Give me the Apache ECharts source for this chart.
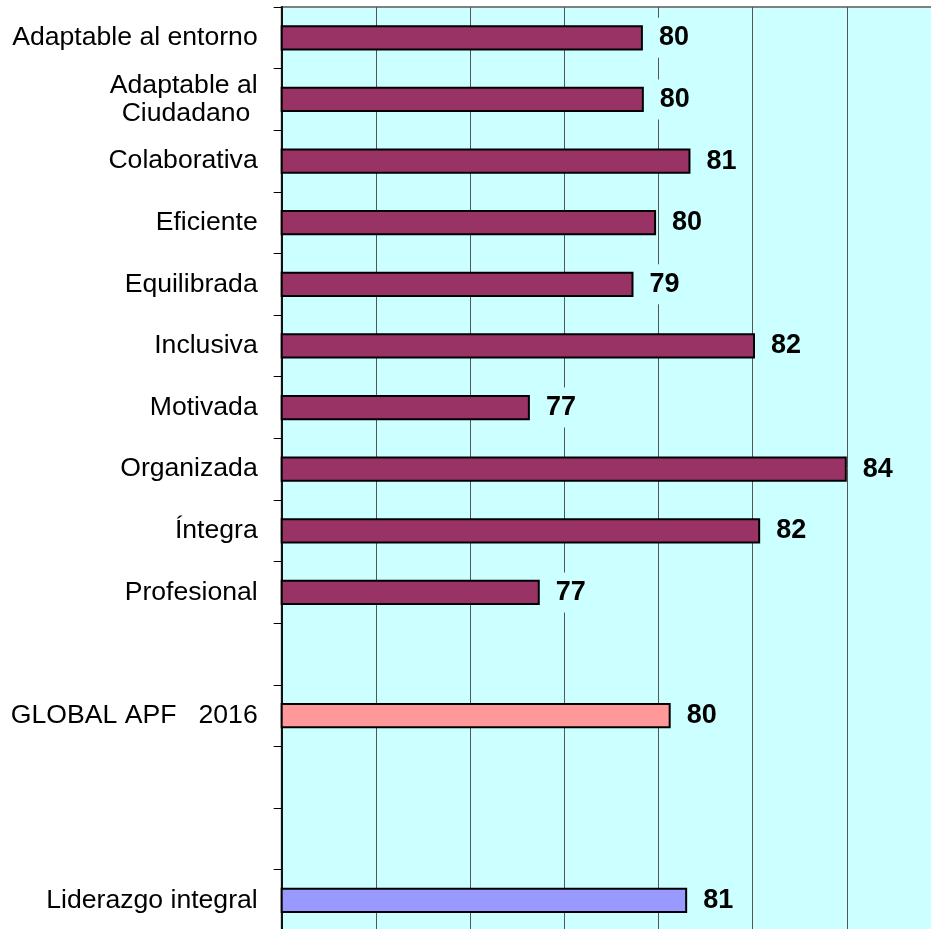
<!DOCTYPE html>
<html>
<head>
<meta charset="utf-8">
<script src="https://cdn.jsdelivr.net/npm/echarts@6/dist/echarts.min.js"></script>
<style>
  html, body { margin: 0; padding: 0; background: #fff; }
  #main { width: 931px; height: 929px; }
</style>
</head>
<body>
<div id="main"></div>
<script>
// categorias (arriba -> abajo), las vacias son huecos del grafico
var categorias = [
  'Adaptable al entorno',
  'Adaptable al\nCiudadano ',
  'Colaborativa',
  'Eficiente',
  'Equilibrada',
  'Inclusiva',
  'Motivada',
  'Organizada',
  'Íntegra',
  'Profesional',
  '',
  'GLOBAL APF   2016',
  '',
  '',
  'Liderazgo integral'
];

var valores = [79.67, 79.69, 80.68, 79.95, 79.47, 82.05, 77.27, 84.0, 82.16, 77.48, '-', 80.26, '-', '-', 80.61];

// color de cada barra
var colores = ['#993366', '#993366', '#993366', '#993366', '#993366', '#993366', '#993366',
  '#993366', '#993366', '#993366', '#993366', '#FF9999', '#993366', '#993366', '#9999FF'];

var ejeMin = 72;
var ejeMax = 86;
var ejeIntervalo = 2;

var fuente = 'Arial, "Liberation Sans", sans-serif';

var chart = echarts.init(document.getElementById('main'), null, { renderer: 'canvas' });

var datos = valores.map(function (v, i) {
  return { value: v, itemStyle: { color: colores[i] } };
});

var option = {
  animation: false,
  backgroundColor: '#ffffff',
  grid: {
    left: 281.7,
    top: 7,
    right: -10,
    bottom: -2.3,
    outerBoundsMode: 'none',
    show: true,
    backgroundColor: '#CCFFFF',
    borderColor: '#808080',
    borderWidth: 2
  },
  xAxis: {
    type: 'value',
    min: ejeMin,
    max: ejeMax,
    interval: ejeIntervalo,
    axisLine: { show: false },
    axisTick: { show: false },
    axisLabel: { show: false },
    splitLine: { show: true, lineStyle: { color: '#555555', width: 1 } }
  },
  yAxis: {
    type: 'category',
    inverse: true,
    data: categorias,
    axisLine: { show: true, lineStyle: { color: '#111111', width: 2 } },
    axisTick: { show: true, length: 8, interval: 0, lineStyle: { color: '#000000', width: 1 } },
    axisLabel: {
      interval: 0,
      margin: 24,
      color: '#000000',
      fontFamily: fuente,
      fontSize: 26.6,
      lineHeight: 28,
      align: 'right'
    }
  },
  series: [{
    type: 'bar',
    data: datos,
    barWidth: '41%',
    itemStyle: { borderColor: '#000000', borderWidth: 2 },
    label: {
      show: true,
      position: 'right',
      distance: 13,
      padding: [7, 3, 6, 3],
      backgroundColor: '#CCFFFF',
      color: '#000000',
      fontFamily: fuente,
      fontWeight: 'bold',
      fontSize: 27,
      formatter: function (p) { return Math.round(p.value); }
    }
  }]
};

chart.setOption(option);
</script>
</body>
</html>
